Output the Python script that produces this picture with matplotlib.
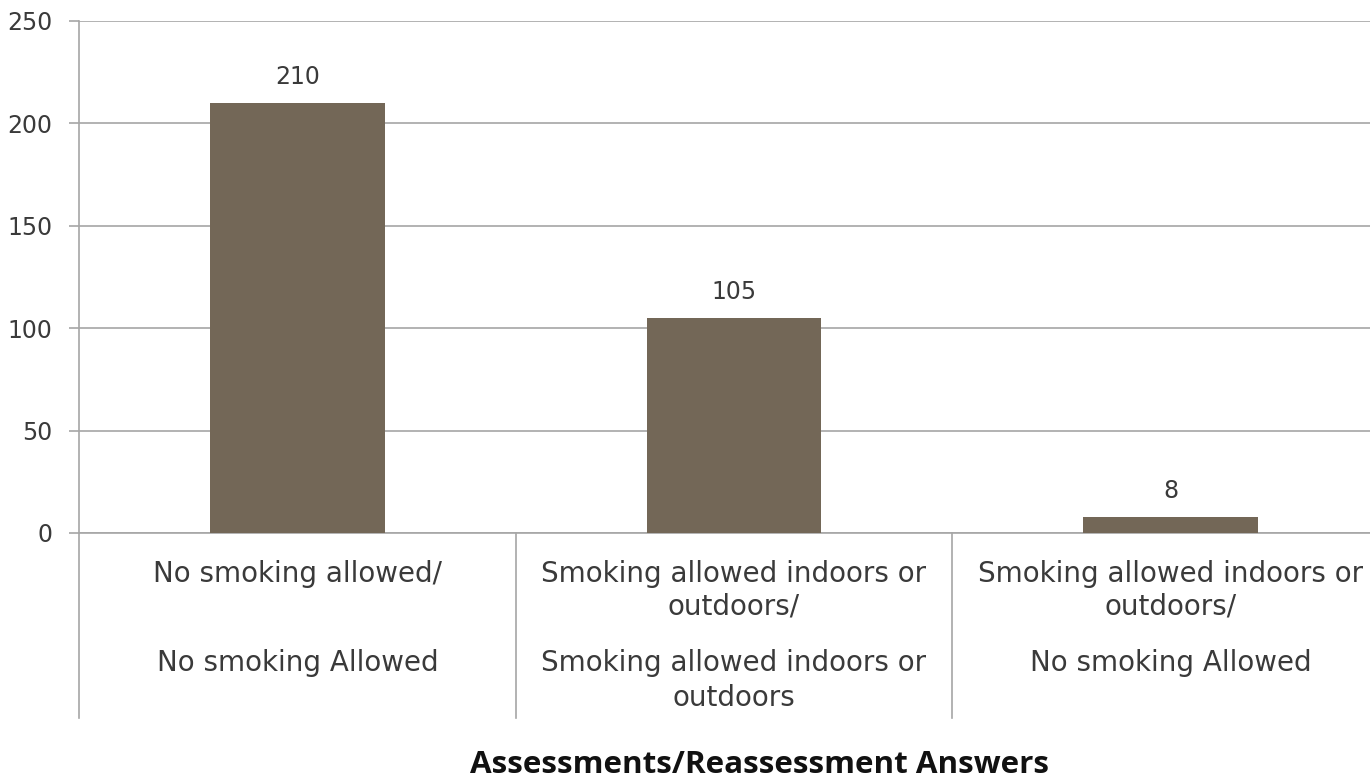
import matplotlib.pyplot as plt
import matplotlib.transforms as mtransforms

# ---------------- data ----------------
top_labels = ["No smoking allowed/",
              "Smoking allowed indoors or\noutdoors/",
              "Smoking allowed indoors or\noutdoors/"]
bottom_labels = ["No smoking Allowed",
                 "Smoking allowed indoors or\noutdoors",
                 "No smoking Allowed"]
counts = [210, 105, 8]
y_ticks = [0, 50, 100, 150, 200, 250]

bar_color = "#736757"
grid_color = "#a6a6a6"
text_color = "#3a3a3a"

plt.rcParams["font.family"] = "DejaVu Sans"

# ---------------- figure ----------------
W, H = 1370, 783
fig = plt.figure(figsize=(W / 100, H / 100), dpi=100)
ax = fig.add_axes([79 / W, (H - 533) / H, (1389 - 79) / W, 512 / H])

x = list(range(len(counts)))
ax.bar(x, counts, width=0.4, color=bar_color, zorder=3)
ax.set_xlim(-0.5, 2.5)
ax.set_ylim(0, 250)
ax.set_yticks(y_ticks)
ax.set_xticks([])

ax.yaxis.grid(True, color=grid_color, linewidth=1.2, zorder=0)
for s in ["top", "right"]:
    ax.spines[s].set_visible(False)
ax.spines["left"].set_color(grid_color)
ax.spines["bottom"].set_color(grid_color)
ax.spines["left"].set_linewidth(1.2)
ax.spines["bottom"].set_linewidth(1.2)
ax.tick_params(axis="y", length=7, width=1.2, color=grid_color, pad=12,
               labelsize=17, labelcolor=text_color)

# value labels
for xi, v in zip(x, counts):
    ax.annotate(str(v), (xi, v), xytext=(0, 10), textcoords="offset points",
                ha="center", va="bottom", fontsize=17, color=text_color)

# category separators below the axis
trans = mtransforms.blended_transform_factory(ax.transData, ax.transAxes)
for b in [-0.5, 0.5, 1.5, 2.5]:
    ax.plot([b, b], [0, -185 / 512], transform=trans, color=grid_color,
            linewidth=1.2, clip_on=False)

# category labels
for xi, t, b in zip(x, top_labels, bottom_labels):
    ax.text(xi, -27 / 512, t, transform=trans, ha="center", va="top",
            fontsize=20, color=text_color, linespacing=1.22)
    ax.text(xi, -116 / 512, b, transform=trans, ha="center", va="top",
            fontsize=20, color=text_color, linespacing=1.32)

fig.text(759 / W, 1 - 765 / H, "Assessments/Reassessment Answers",
         ha="center", va="center", fontsize=22.6, fontweight="bold",
         family="Open Sans", color="#111111")

fig.savefig("out.png", dpi=100)
